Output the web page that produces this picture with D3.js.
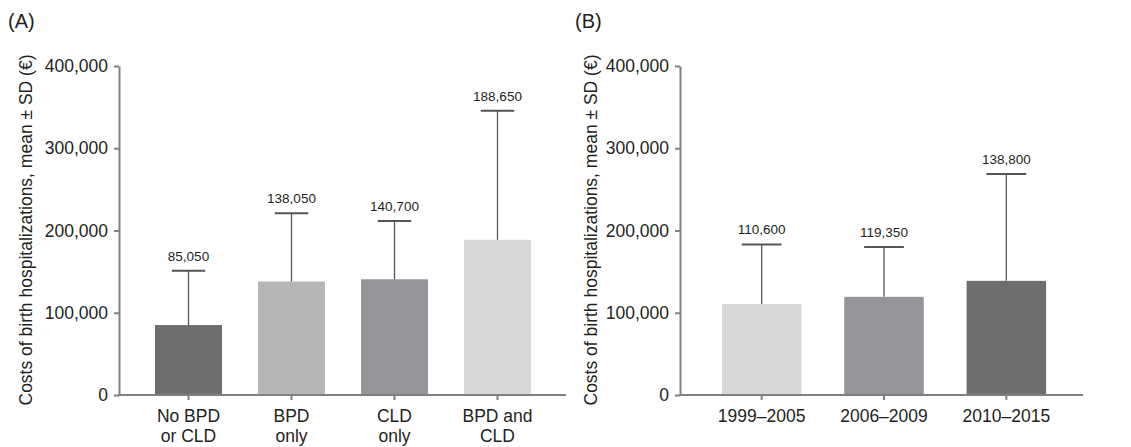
<!DOCTYPE html>
<html>
<head>
<meta charset="utf-8">
<script src="https://cdnjs.cloudflare.com/ajax/libs/d3/7.8.5/d3.min.js"></script>
<style>
  body { margin: 0; background: #fff; }
  text { font-family: "Liberation Sans", Arial, sans-serif; fill: #231f20; }
</style>
</head>
<body>
<div id="chart"></div>
<script>
var width = 1131;
var height = 447;

// panel A
var catsA = [["No BPD", "or CLD"], ["BPD", "only"], ["CLD", "only"], ["BPD and", "CLD"]];
var meansA = [85050, 138050, 140700, 188650];
var sdA = [66000, 83000, 71000, 157000];
var colorsA = ["#6d6e70", "#b5b6b8", "#939598", "#d7d8da"];

// panel B
var catsB = [["1999–2005"], ["2006–2009"], ["2010–2015"]];
var meansB = [110600, 119350, 138800];
var sdB = [72500, 60500, 130000];
var colorsB = ["#d7d8da", "#939598", "#6d6e70"];

var yTicks = [0, 100000, 200000, 300000, 400000];
var yTitle = "Costs of birth hospitalizations, mean ± SD (€)";

var svg = d3.select("#chart").append("svg")
    .attr("width", width)
    .attr("height", height);

svg.append("rect")
    .attr("width", width)
    .attr("height", height)
    .attr("fill", "#fff");

var fmt = d3.format(",");
var axisColor = "#808080";

function panel(p) {
  var y = d3.scaleLinear().domain([0, 400000]).range([395, 66]);
  var x = d3.scaleBand()
      .domain(d3.range(p.means.length))
      .range([p.x0, p.x1])
      .paddingInner(0.35)
      .paddingOuter(0.175);

  var g = svg.append("g");

  // bars
  g.selectAll("rect.bar").data(p.means).enter().append("rect")
      .attr("class", "bar")
      .attr("x", function(d, i) { return x(i); })
      .attr("y", function(d) { return y(d); })
      .attr("width", x.bandwidth())
      .attr("height", function(d) { return y(0) - y(d); })
      .attr("fill", function(d, i) { return p.colors[i]; });

  // error bars (upper only)
  p.means.forEach(function(m, i) {
    var cx = x(i) + x.bandwidth() / 2;
    var top = y(m + p.sd[i]);
    g.append("line")
        .attr("x1", cx).attr("x2", cx)
        .attr("y1", y(m)).attr("y2", top)
        .attr("stroke", "#555").attr("stroke-width", 1.3);
    g.append("line")
        .attr("x1", cx - x.bandwidth() / 4).attr("x2", cx + x.bandwidth() / 4)
        .attr("y1", top).attr("y2", top)
        .attr("stroke", "#555").attr("stroke-width", 2);
    g.append("text")
        .attr("x", cx)
        .attr("y", top - 10)
        .attr("text-anchor", "middle")
        .style("font-size", "13.5px")
        .text(fmt(m));
  });

  // y axis
  var ya = g.append("g")
      .attr("transform", "translate(" + p.ax + ",0)")
      .call(d3.axisLeft(y).tickValues(yTicks).tickFormat(fmt).tickSize(5).tickPadding(6).tickSizeOuter(0));
  ya.selectAll("text").style("font-size", "17.5px").attr("fill", "#231f20");
  ya.selectAll("line").attr("stroke", axisColor).attr("stroke-width", 2);
  ya.select(".domain").attr("stroke", axisColor).attr("stroke-width", 2);

  // x axis
  var xa = g.append("g")
      .attr("transform", "translate(0," + y(0) + ")")
      .call(d3.axisBottom(x).tickSize(5).tickFormat(""));
  xa.select(".domain").remove();
  xa.selectAll("line").attr("stroke", axisColor).attr("stroke-width", 2);
  xa.append("line")
      .attr("x1", p.ax).attr("x2", p.axEnd)
      .attr("stroke", axisColor).attr("stroke-width", 2);

  p.cats.forEach(function(c, i) {
    var t = g.append("text")
        .attr("text-anchor", "middle")
        .style("font-size", "17.5px");
    c.forEach(function(line, k) {
      t.append("tspan")
          .attr("x", x(i) + x.bandwidth() / 2)
          .attr("y", 422 + k * 20)
          .text(line);
    });
  });

  // y title
  g.append("text")
      .attr("transform", "translate(" + p.titleX + ",230) rotate(-90)")
      .attr("text-anchor", "middle")
      .style("font-size", "17.5px")
      .text(yTitle);

  // panel letter
  g.append("text")
      .attr("x", p.letterX)
      .attr("y", 28)
      .style("font-size", "20px")
      .text(p.letter);
}

panel({ means: meansA, sd: sdA, colors: colorsA, cats: catsA,
        x0: 137, x1: 549, ax: 119, axEnd: 566, titleX: 32, letterX: 8, letter: "(A)" });
panel({ means: meansB, sd: sdB, colors: colorsB, cats: catsB,
        x0: 700.5, x1: 1067.5, ax: 680, axEnd: 1083, titleX: 597, letterX: 575, letter: "(B)" });
</script>
</body>
</html>
